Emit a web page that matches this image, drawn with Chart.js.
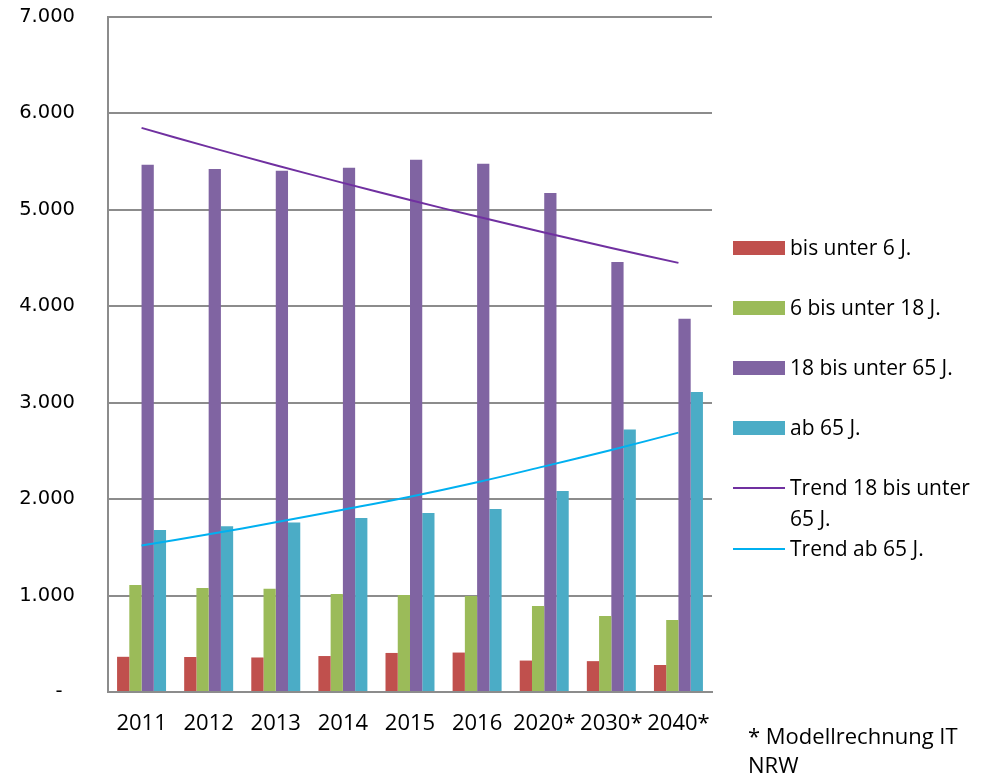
<!DOCTYPE html>
<html>
<head>
<meta charset="utf-8">
<script src="https://cdn.jsdelivr.net/npm/chart.js@4.4.1/dist/chart.umd.min.js"></script>
<style>
	body { margin: 0; background: #fff; }
	#wrap { position: relative; width: 990px; height: 778px; }
	#legend { position: absolute; left: 733px; top: 0; font-family: "Open Sans", sans-serif; font-size: 21px; color: #000; }
	.item { position: absolute; left: 0; white-space: nowrap; }
	.box { position: absolute; left: 0; width: 52px; height: 14px; }
	.ln { position: absolute; left: 0; width: 52px; height: 2px; }
	.txt { position: absolute; left: 57px; line-height: 31px; }
	#note { position: absolute; left: 748px; top: 721px; font-family: "Open Sans", sans-serif; font-size: 22px; line-height: 29px; }
</style>
</head>
<body>
<div id="wrap">
	<canvas id="mycanvas" width="990" height="778"></canvas>
	<div id="legend"></div>
	<div id="note">* Modellrechnung IT<br>NRW</div>
</div>
<script>
var years = ["2011", "2012", "2013", "2014", "2015", "2016", "2020*", "2030*", "2040*"];
var under6 = [365, 363, 358, 373, 405, 409, 326, 320, 280];
var from6to18 = [1110, 1078, 1072, 1017, 1006, 995, 892, 788, 747];
var from18to65 = [5467, 5425, 5405, 5436, 5519, 5477, 5176, 4460, 3870];
var from65 = [1680, 1720, 1757, 1805, 1857, 1898, 2085, 2722, 3112];
var trend18to65 = [5850, 5653, 5463, 5280, 5102, 4931, 4765, 4605, 4450];
var trend65 = [1520, 1635, 1760, 1890, 2025, 2175, 2340, 2510, 2690];

var colors = {
	red: "#c0504d",
	green: "#9bbb59",
	purple: "#8064a2",
	teal: "#4bacc6",
	trendPurple: "#7030a0",
	trendBlue: "#00b0f0"
};

function bar(label, data, color) {
	return {
		type: "bar",
		label: label,
		data: data,
		backgroundColor: color,
		borderWidth: 0,
		barPercentage: 1.0,
		categoryPercentage: 0.73,
		order: 2
	};
}

function trend(label, data, color) {
	return {
		type: "line",
		label: label,
		data: data,
		borderColor: color,
		borderWidth: 2,
		pointRadius: 0,
		fill: false,
		tension: 0.4,
		order: 1
	};
}

var chartdata = {
	labels: years,
	datasets: [
		bar("bis unter 6 J.", under6, colors.red),
		bar("6 bis unter 18 J.", from6to18, colors.green),
		bar("18 bis unter 65 J.", from18to65, colors.purple),
		bar("ab 65 J.", from65, colors.teal),
		trend("Trend 18 bis unter 65 J.", trend18to65, colors.trendPurple),
		trend("Trend ab 65 J.", trend65, colors.trendBlue)
	]
};

var ctx = document.getElementById("mycanvas");

var chart = new Chart(ctx, {
	data: chartdata,
	options: {
		responsive: false,
		animation: false,
		layout: { padding: { left: 0, top: 17, right: 278, bottom: 0 } },
		plugins: {
			legend: { display: false },
			tooltip: { enabled: false }
		},
		scales: {
			x: {
				grid: { display: false, drawTicks: false },
				border: { display: true, color: "#8c8c8c", width: 2 },
				ticks: {
					color: "#000",
					padding: 19,
					maxRotation: 0,
					autoSkip: false,
					font: { family: "'Open Sans', sans-serif", size: 22 }
				},
				afterFit: function(scale) {
					scale.height = 86;
					scale.paddingLeft = 0;
					scale.paddingRight = 0;
				}
			},
			y: {
				min: 0,
				max: 7000,
				grid: { color: "#8c8c8c", lineWidth: 2, drawTicks: false },
				border: { display: true, color: "#8c8c8c", width: 2 },
				ticks: {
					stepSize: 1000,
					color: "#000",
					padding: 33,
					font: { family: "'DejaVu Sans', sans-serif", size: 19.5 },
					callback: function(v) {
						if (v === 0) return "-  ";
						return v.toString().replace(/\B(?=(\d{3})+(?!\d))/g, ".");
					}
				},
				afterFit: function(scale) {
					scale.width = 108;
					scale.paddingTop = 0;
					scale.paddingBottom = 0;
				}
			}
		}
	}
});

// legend on the right, built from the dataset labels
var legendTops = [232, 292, 352, 412, 472, 533];
var legend = document.getElementById("legend");
chartdata.datasets.forEach(function(ds, i) {
	var item = document.createElement("div");
	item.className = "item";
	item.style.top = legendTops[i] + "px";
	var mark = document.createElement("div");
	if (ds.type === "bar") {
		mark.className = "box";
		mark.style.top = "9px";
		mark.style.background = ds.backgroundColor;
	} else {
		mark.className = "ln";
		mark.style.top = "15px";
		mark.style.background = ds.borderColor;
	}
	var txt = document.createElement("div");
	txt.className = "txt";
	txt.style.top = "0px";
	txt.innerHTML = ds.label === "Trend 18 bis unter 65 J." ? "Trend 18 bis unter<br>65 J." : ds.label;
	item.appendChild(mark);
	item.appendChild(txt);
	legend.appendChild(item);
});
</script>
</body>
</html>
